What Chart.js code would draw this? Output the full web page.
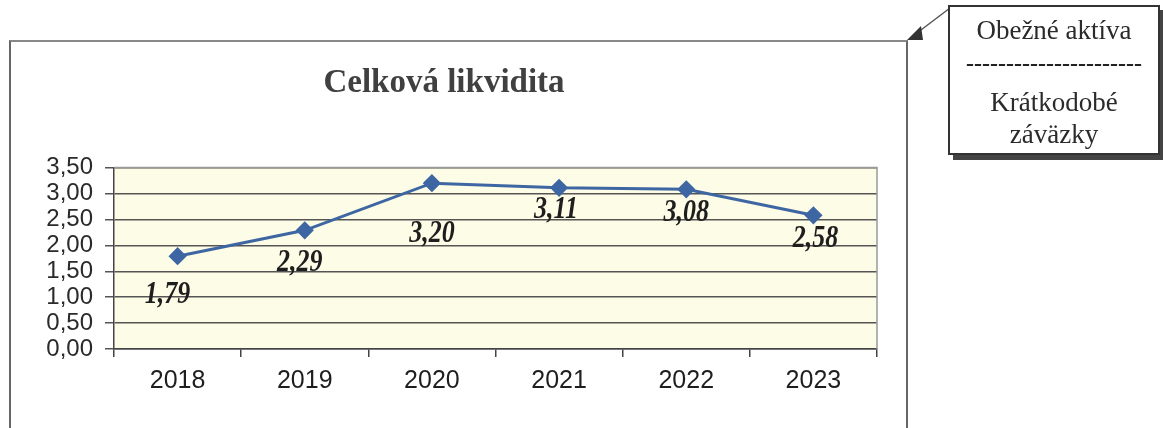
<!DOCTYPE html>
<html>
<head>
<meta charset="utf-8">
<script src="https://cdn.jsdelivr.net/npm/chart.js@4.4.1/dist/chart.umd.min.js"></script>
<style>
  html, body { margin: 0; padding: 0; background: #fff; width: 1163px; height: 428px; overflow: hidden; }
  #frame { position: absolute; left: 9px; top: 40px; width: 895px; height: 400px;
           border-left: 2px solid #666; border-top: 2px solid #888; border-right: 2px solid #666; }
  #wrap { position: absolute; left: 0; top: 0; width: 895px; height: 388px; }
  #callout { position: absolute; left: 948px; top: 5px; width: 208px; height: 146px;
             border: 2px solid #333; background: #fff; box-shadow: 5px 5px 0 #444;
             font-family: "Liberation Serif", "Times New Roman", serif; color: #2b2b2b;
             font-size: 27px; text-align: center; line-height: 1; }
  #callout div { position: absolute; left: 0; width: 100%; }
  #arrow { position: absolute; left: 895px; top: 0; }
</style>
</head>
<body>
<div id="frame"><div id="wrap"><canvas id="c"></canvas></div></div>
<svg id="arrow" width="60" height="50">
  <line x1="55" y1="8" x2="22" y2="33" stroke="#555" stroke-width="1.5"/>
  <polygon points="12,40 26,26 28,40" fill="#333"/>
</svg>
<div id="callout">
  <div style="top:10px;">Obežné aktíva</div>
  <div style="top:44px; font-weight:bold; font-size:24px; color:#222;">----------------------</div>
  <div style="top:82px;">Krátkodobé</div>
  <div style="top:114px;">záväzky</div>
</div>
<script>
const chartTitle = "Celková likvidita";
const categories = ["2018", "2019", "2020", "2021", "2022", "2023"];
const values = [1.79, 2.29, 3.20, 3.11, 3.08, 2.58];
const yTicks = [0, 0.5, 1, 1.5, 2, 2.5, 3, 3.5];
const labelOffsets = [[-10, 39], [-5, 32], [0, 51], [-3, 22], [0, 23], [2, 24]];

const fmt = v => v.toFixed(2).replace('.', ',');

const plotBg = {
  id: 'plotBg',
  beforeDraw(chart) {
    const {ctx, chartArea: a} = chart;
    ctx.save();
    ctx.fillStyle = '#FDFCE6';
    ctx.fillRect(a.left, a.top, a.right - a.left, a.bottom - a.top);
    ctx.restore();
  },
  afterDatasetsDraw(chart) {
    const {ctx, chartArea: a} = chart;
    ctx.save();
    ctx.strokeStyle = '#999';
    ctx.lineWidth = 1.5;
    ctx.beginPath();
    ctx.moveTo(a.left, a.top); ctx.lineTo(a.right, a.top); ctx.lineTo(a.right, a.bottom);
    ctx.stroke();
    ctx.restore();
  }
};

const dataLabels = {
  id: 'dataLabels',
  afterDatasetsDraw(chart) {
    const {ctx} = chart;
    const meta = chart.getDatasetMeta(0);
    ctx.save();
    ctx.font = 'italic bold 26px "Liberation Serif", "Times New Roman", serif';
    ctx.fillStyle = '#1e1e1e';
    ctx.textAlign = 'center';
    ctx.textBaseline = 'middle';
    meta.data.forEach((pt, i) => {
      const [dx, dy] = labelOffsets[i];
      ctx.save();
      ctx.translate(pt.x + dx, pt.y + dy);
      ctx.scale(1, 1.22);
      ctx.fillText(fmt(values[i]), 0, 0);
      ctx.restore();
    });
    ctx.restore();
  }
};

new Chart(document.getElementById('c'), {
  type: 'line',
  data: {
    labels: categories,
    datasets: [{
      data: values,
      borderColor: '#3D66A3',
      backgroundColor: '#3D66A3',
      borderWidth: 3,
      pointStyle: 'rectRot',
      pointRadius: 7,
      pointHoverRadius: 7,
      tension: 0
    }]
  },
  options: {
    responsive: true,
    maintainAspectRatio: false,
    animation: false,
    events: [],
    layout: { padding: { left: 0, right: 29, top: 0, bottom: 25 } },
    plugins: {
      legend: { display: false },
      tooltip: { enabled: false },
      title: {
        display: true,
        text: chartTitle,
        color: '#404040',
        font: { family: '"Liberation Serif", "Times New Roman", serif', size: 33, weight: 'bold' },
        padding: { top: 22, bottom: 64 }
      }
    },
    scales: {
      x: {
        offset: true,
        grid: { offset: true, drawOnChartArea: false, drawTicks: true, tickLength: 8, color: '#444', lineWidth: 1.5 },
        border: { color: '#444', width: 1.5 },
        ticks: { color: '#1e1e1e', padding: 9, font: { family: '"Liberation Sans", Arial, sans-serif', size: 25 } }
      },
      y: {
        min: 0, max: 3.5,
        afterBuildTicks(scale) { scale.ticks = yTicks.map(v => ({ value: v })); },
        afterFit(scale) { scale.width = 103; },
        grid: { color: '#555', lineWidth: 1.5, drawTicks: true, tickLength: 9 },
        border: { color: '#444', width: 1.5 },
        ticks: { color: '#2a2a2a', padding: 12, autoSkip: false, callback: v => fmt(v),
                 font: { family: '"Liberation Sans", Arial, sans-serif', size: 24 } }
      }
    }
  },
  plugins: [plotBg, dataLabels]
});
</script>
</body>
</html>
